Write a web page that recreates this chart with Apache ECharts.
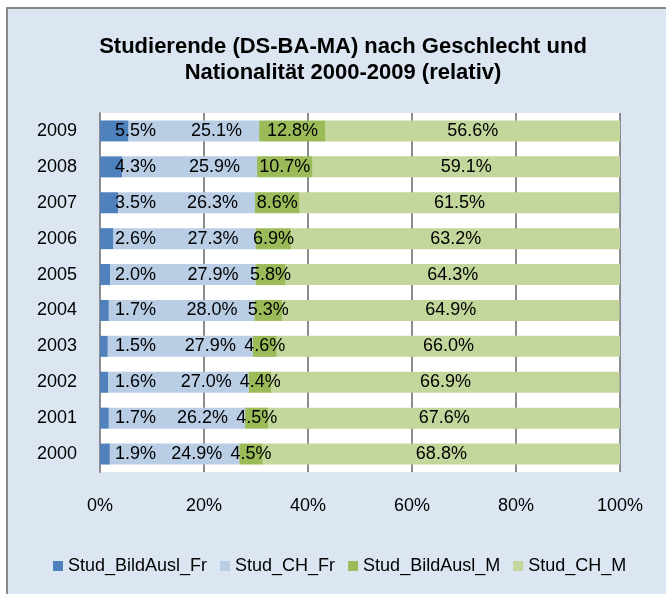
<!DOCTYPE html>
<html>
<head>
<meta charset="utf-8">
<script src="https://cdn.jsdelivr.net/npm/echarts@6/dist/echarts.min.js"></script>
<style>
  html, body { margin: 0; padding: 0; background: #fff; }
  #chart { width: 666px; height: 594px; }
</style>
</head>
<body>
<div id="chart"></div>
<script>
var years = ['2000', '2001', '2002', '2003', '2004', '2005', '2006', '2007', '2008', '2009'];
var seriesNames = ['Stud_BildAusl_Fr', 'Stud_CH_Fr', 'Stud_BildAusl_M', 'Stud_CH_M'];
var bildAuslFr = [1.9, 1.7, 1.6, 1.5, 1.7, 2.0, 2.6, 3.5, 4.3, 5.5];
var chFr = [24.9, 26.2, 27.0, 27.9, 28.0, 27.9, 27.3, 26.3, 25.9, 25.1];
var bildAuslM = [4.5, 4.5, 4.4, 4.6, 5.3, 5.8, 6.9, 8.6, 10.7, 12.8];
var chM = [68.8, 67.6, 66.9, 66.0, 64.9, 64.3, 63.2, 61.5, 59.1, 56.6];
var xTicks = [0, 20, 40, 60, 80, 100];

var font = 'Liberation Sans, Arial, sans-serif';
var colors = ['#4f81bd', '#b9cde5', '#9bbb59', '#c3d69b'];

function pct(p) {
    return p.value.toFixed(1) + '%';
}

function bar(name, data, labelPos, dist) {
    return {
        name: name,
        type: 'bar',
        stack: 'all',
        barWidth: 21,
        data: data,
        label: {
            show: true,
            position: labelPos,
            distance: dist,
            formatter: pct,
            color: '#000',
            fontSize: 18,
            fontFamily: font
        }
    };
}

var myChart = echarts.init(document.getElementById('chart'));

var option = {
    backgroundColor: '#fff',
    color: colors,
    animation: false,
    graphic: [
        {
            type: 'rect',
            z: -5,
            shape: {x: 7, y: 8, width: 700, height: 700},
            style: {fill: '#dce6f2', stroke: '#898989', lineWidth: 2}
        },
        {
            type: 'text',
            x: 343,
            y: 60,
            style: {
                text: 'Studierende (DS-BA-MA) nach Geschlecht und\nNationalität 2000-2009 (relativ)',
                align: 'center',
                verticalAlign: 'middle',
                font: 'bold 22px ' + font,
                lineHeight: 26,
                fill: '#000'
            }
        }
    ],
    grid: {
        left: 100,
        right: 46,
        top: 113,
        bottom: 122,
        show: true,
        backgroundColor: '#fff',
        borderWidth: 0
    },
    legend: {
        data: seriesNames,
        left: 48,
        top: 552,
        icon: 'rect',
        itemWidth: 10,
        itemHeight: 10,
        itemGap: 13,
        textStyle: {fontSize: 18, fontFamily: font, color: '#000'}
    },
    xAxis: {
        type: 'value',
        min: xTicks[0],
        max: xTicks[xTicks.length - 1],
        interval: 20,
        axisLine: {show: false},
        axisTick: {show: false},
        axisLabel: {
            formatter: '{value}%',
            fontSize: 18,
            fontFamily: font,
            color: '#000',
            margin: 25
        },
        splitLine: {lineStyle: {color: '#8c8c8c', width: 2}}
    },
    yAxis: {
        type: 'category',
        data: years,
        axisTick: {show: false},
        axisLine: {lineStyle: {color: '#8c8c8c', width: 2}},
        axisLabel: {fontSize: 18, fontFamily: font, color: '#000', margin: 23}
    },
    series: [
        bar(seriesNames[0], bildAuslFr, 'insideLeft', 15),
        bar(seriesNames[1], chFr, 'insideRight', 17),
        bar(seriesNames[2], bildAuslM, 'inside', 5),
        bar(seriesNames[3], chM, 'inside', 5)
    ]
};

myChart.setOption(option);
</script>
</body>
</html>
